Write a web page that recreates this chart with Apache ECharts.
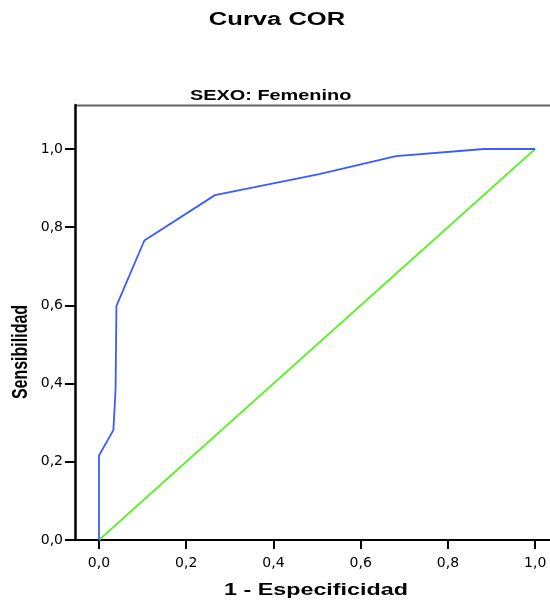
<!DOCTYPE html>
<html>
<head>
<meta charset="utf-8">
<script src="https://cdn.jsdelivr.net/npm/echarts@6/dist/echarts.min.js"></script>
<style>
  html, body { margin: 0; padding: 0; background: #fff; }
  #chart { width: 550px; height: 601px; }
</style>
</head>
<body>
<div id="chart"></div>
<script>
// curva COR, sexo femenino
var rocX = [0, 0, 0.033, 0.038, 0.040, 0.104, 0.266, 0.505, 0.681, 0.883, 1];
var rocY = [0, 0.216, 0.281, 0.384, 0.599, 0.766, 0.882, 0.936, 0.982, 1, 1];
var refX = [0, 1];
var refY = [0, 1];
var tickValues = [0, 0.2, 0.4, 0.6, 0.8, 1.0];

function fmt(v) {
    return v.toFixed(1).replace('.', ',');
}
function pairs(xs, ys) {
    var out = [];
    for (var i = 0; i < xs.length; i++) out.push([xs[i], ys[i]]);
    return out;
}

// el original está estirado en horizontal, por eso el scaleX en los textos
var stretch = 1.42;

var chart = echarts.init(document.getElementById('chart'));
var option = {
    animation: false,
    grid: { left: 75, right: 0, top: 105, bottom: 61 },
    xAxis: {
        type: 'value',
        min: -0.055,
        max: 1.034,
        axisLine: { show: true, onZero: false, lineStyle: { color: '#000', width: 2 } },
        axisTick: { show: true, customValues: tickValues, length: 9, lineStyle: { color: '#000', width: 2 } },
        axisLabel: {
            customValues: tickValues,
            formatter: fmt,
            margin: 16,
            fontFamily: 'DejaVu Sans',
            fontSize: 14,
            color: '#000'
        },
        splitLine: { show: false }
    },
    yAxis: {
        type: 'value',
        min: 0,
        max: 1.1125,
        axisLine: { show: true, onZero: false, lineStyle: { color: '#000', width: 2.5 } },
        axisTick: { show: true, customValues: tickValues, length: 10, lineStyle: { color: '#000', width: 2 } },
        axisLabel: {
            customValues: tickValues,
            formatter: fmt,
            margin: 12,
            fontFamily: 'DejaVu Sans',
            fontSize: 14,
            color: '#000'
        },
        splitLine: { show: false }
    },
    graphic: [
        {
            type: 'line',
            shape: { x1: 75, y1: 105.5, x2: 550, y2: 105.5 },
            style: { stroke: '#666', lineWidth: 2 }
        },
        {
            type: 'text', x: 277, y: 20, scaleX: stretch,
            style: { text: 'Curva COR', font: 'bold 18px "Liberation Sans"', fill: '#000',
                     textAlign: 'center', textVerticalAlign: 'middle' }
        },
        {
            type: 'text', x: 190, y: 96, scaleX: stretch,
            style: { text: 'SEXO: Femenino', font: 'bold 14px "Liberation Sans"', fill: '#000',
                     textAlign: 'left', textVerticalAlign: 'middle' }
        },
        {
            type: 'text', x: 316, y: 590, scaleX: 1.37,
            style: { text: '1 - Especificidad', font: 'bold 17px "Liberation Sans"', fill: '#000',
                     textAlign: 'center', textVerticalAlign: 'middle' }
        },
        {
            type: 'text', x: 21, y: 352, rotation: Math.PI / 2, scaleY: 1.35,
            style: { text: 'Sensibilidad', font: 'bold 16px "Liberation Sans"', fill: '#000',
                     textAlign: 'center', textVerticalAlign: 'middle' }
        }
    ],
    series: [
        {
            name: 'Referencia',
            type: 'line',
            data: pairs(refX, refY),
            symbol: 'none',
            lineStyle: { color: '#5cf02a', width: 1.8 },
            z: 2
        },
        {
            name: 'Curva',
            type: 'line',
            data: pairs(rocX, rocY),
            symbol: 'none',
            lineStyle: { color: '#3a5cff', width: 1.8 },
            z: 3
        }
    ]
};
chart.setOption(option);
</script>
</body>
</html>
